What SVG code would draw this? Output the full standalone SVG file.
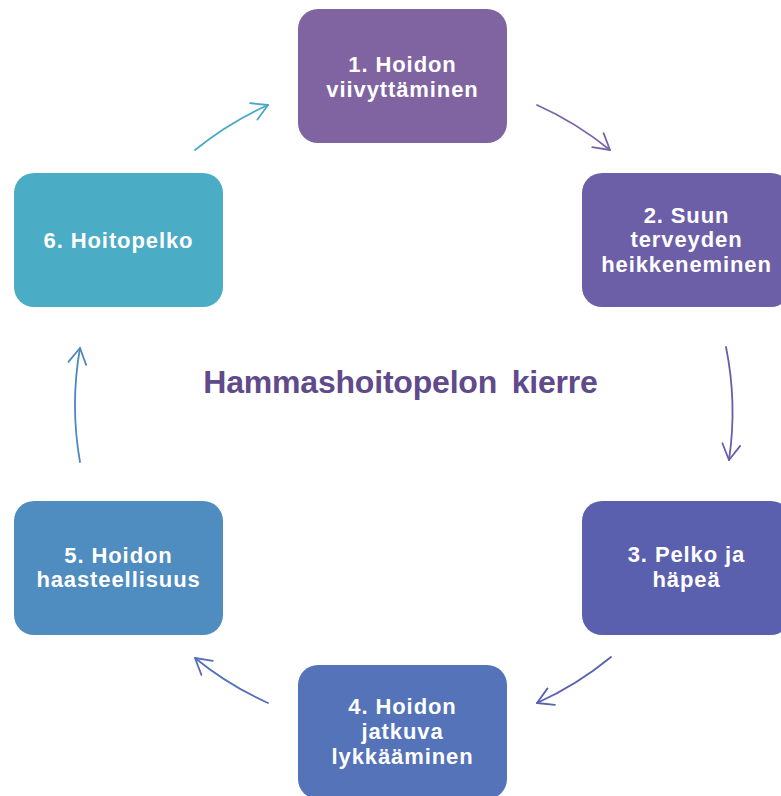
<svg xmlns="http://www.w3.org/2000/svg" width="781" height="796" viewBox="0 0 781 796">
<style>
.box{stroke:none}
.lbl{font-family:"Liberation Sans",Arial,sans-serif;font-weight:bold;font-size:22px;fill:#ffffff;text-anchor:middle;letter-spacing:0.9px}
.title{font-family:"Liberation Sans",Arial,sans-serif;font-weight:bold;font-size:32px;fill:#5f4a8b;text-anchor:middle;word-spacing:6px;letter-spacing:-0.2px}
.arc{fill:none;stroke-width:1.8;stroke-linecap:round}
</style>
<defs>
<marker id="m1" markerUnits="userSpaceOnUse" markerWidth="40" markerHeight="40" refX="0" refY="0" viewBox="-20 -20 40 40" orient="auto"><path d="M-15.6 -9 L0 0 L-15.6 9" fill="none" stroke="#7b63a9" stroke-width="1.8" stroke-linecap="round" stroke-linejoin="round"/></marker>
<marker id="m2" markerUnits="userSpaceOnUse" markerWidth="40" markerHeight="40" refX="0" refY="0" viewBox="-20 -20 40 40" orient="auto"><path d="M-15.6 -9 L0 0 L-15.6 9" fill="none" stroke="#6a5eab" stroke-width="1.8" stroke-linecap="round" stroke-linejoin="round"/></marker>
<marker id="m3" markerUnits="userSpaceOnUse" markerWidth="40" markerHeight="40" refX="0" refY="0" viewBox="-20 -20 40 40" orient="auto"><path d="M-15.6 -9 L0 0 L-15.6 9" fill="none" stroke="#5861b0" stroke-width="1.8" stroke-linecap="round" stroke-linejoin="round"/></marker>
<marker id="m4" markerUnits="userSpaceOnUse" markerWidth="40" markerHeight="40" refX="0" refY="0" viewBox="-20 -20 40 40" orient="auto"><path d="M-15.6 -9 L0 0 L-15.6 9" fill="none" stroke="#5470b8" stroke-width="1.8" stroke-linecap="round" stroke-linejoin="round"/></marker>
<marker id="m5" markerUnits="userSpaceOnUse" markerWidth="40" markerHeight="40" refX="0" refY="0" viewBox="-20 -20 40 40" orient="auto"><path d="M-15.6 -9 L0 0 L-15.6 9" fill="none" stroke="#4f87c0" stroke-width="1.8" stroke-linecap="round" stroke-linejoin="round"/></marker>
<marker id="m6" markerUnits="userSpaceOnUse" markerWidth="40" markerHeight="40" refX="0" refY="0" viewBox="-20 -20 40 40" orient="auto"><path d="M-15.6 -9 L0 0 L-15.6 9" fill="none" stroke="#4ba7c8" stroke-width="1.8" stroke-linecap="round" stroke-linejoin="round"/></marker>
</defs>
<rect width="781" height="796" fill="#ffffff"/>
<g id="connectors">
<path class="arc" stroke="#7b63a9" marker-end="url(#m1)" d="M537 105 A328 328 0 0 1 610 150"/>
<path class="arc" stroke="#6a5eab" marker-end="url(#m2)" d="M726 347 A328 328 0 0 1 729 460"/>
<path class="arc" stroke="#5861b0" marker-end="url(#m3)" d="M611 657 A328 328 0 0 1 537 703"/>
<path class="arc" stroke="#5470b8" marker-end="url(#m4)" d="M268 703 A328 328 0 0 1 195 658"/>
<path class="arc" stroke="#4f87c0" marker-end="url(#m5)" d="M80 462 A328 328 0 0 1 80 348"/>
<path class="arc" stroke="#4ba7c8" marker-end="url(#m6)" d="M195 150 A328 328 0 0 1 268 105"/>
</g>
<g id="node1">
<rect class="box" x="298" y="9" width="209" height="134" rx="20" fill="#8064a2"/>
<text class="lbl" x="402.5" y="72">1. Hoidon</text>
<text class="lbl" x="402.5" y="97">viivyttäminen</text>
</g>
<g id="node2">
<rect class="box" x="582" y="173" width="209" height="134" rx="20" fill="#6d5fa7"/>
<text class="lbl" x="686.5" y="223">2. Suun</text>
<text class="lbl" x="686.5" y="247">terveyden</text>
<text class="lbl" x="686.5" y="272">heikkeneminen</text>
</g>
<g id="node3">
<rect class="box" x="582" y="501" width="209" height="134" rx="20" fill="#5b60ae"/>
<text class="lbl" x="686.5" y="562">3. Pelko ja</text>
<text class="lbl" x="686.5" y="587">häpeä</text>
</g>
<g id="node4">
<rect class="box" x="298" y="665" width="209" height="134" rx="20" fill="#5473b8"/>
<text class="lbl" x="402.5" y="714">4. Hoidon</text>
<text class="lbl" x="402.5" y="739">jatkuva</text>
<text class="lbl" x="402.5" y="764">lykkääminen</text>
</g>
<g id="node5">
<rect class="box" x="14" y="501" width="209" height="134" rx="20" fill="#4f8cc0"/>
<text class="lbl" x="118.5" y="563">5. Hoidon</text>
<text class="lbl" x="118.5" y="587">haasteellisuus</text>
</g>
<g id="node6">
<rect class="box" x="14" y="173" width="209" height="134" rx="20" fill="#4bacc6"/>
<text class="lbl" x="118.5" y="248">6. Hoitopelko</text>
</g>
<g id="title">
<text class="title" x="400.5" y="393">Hammashoitopelon kierre</text>
</g>
</svg>
